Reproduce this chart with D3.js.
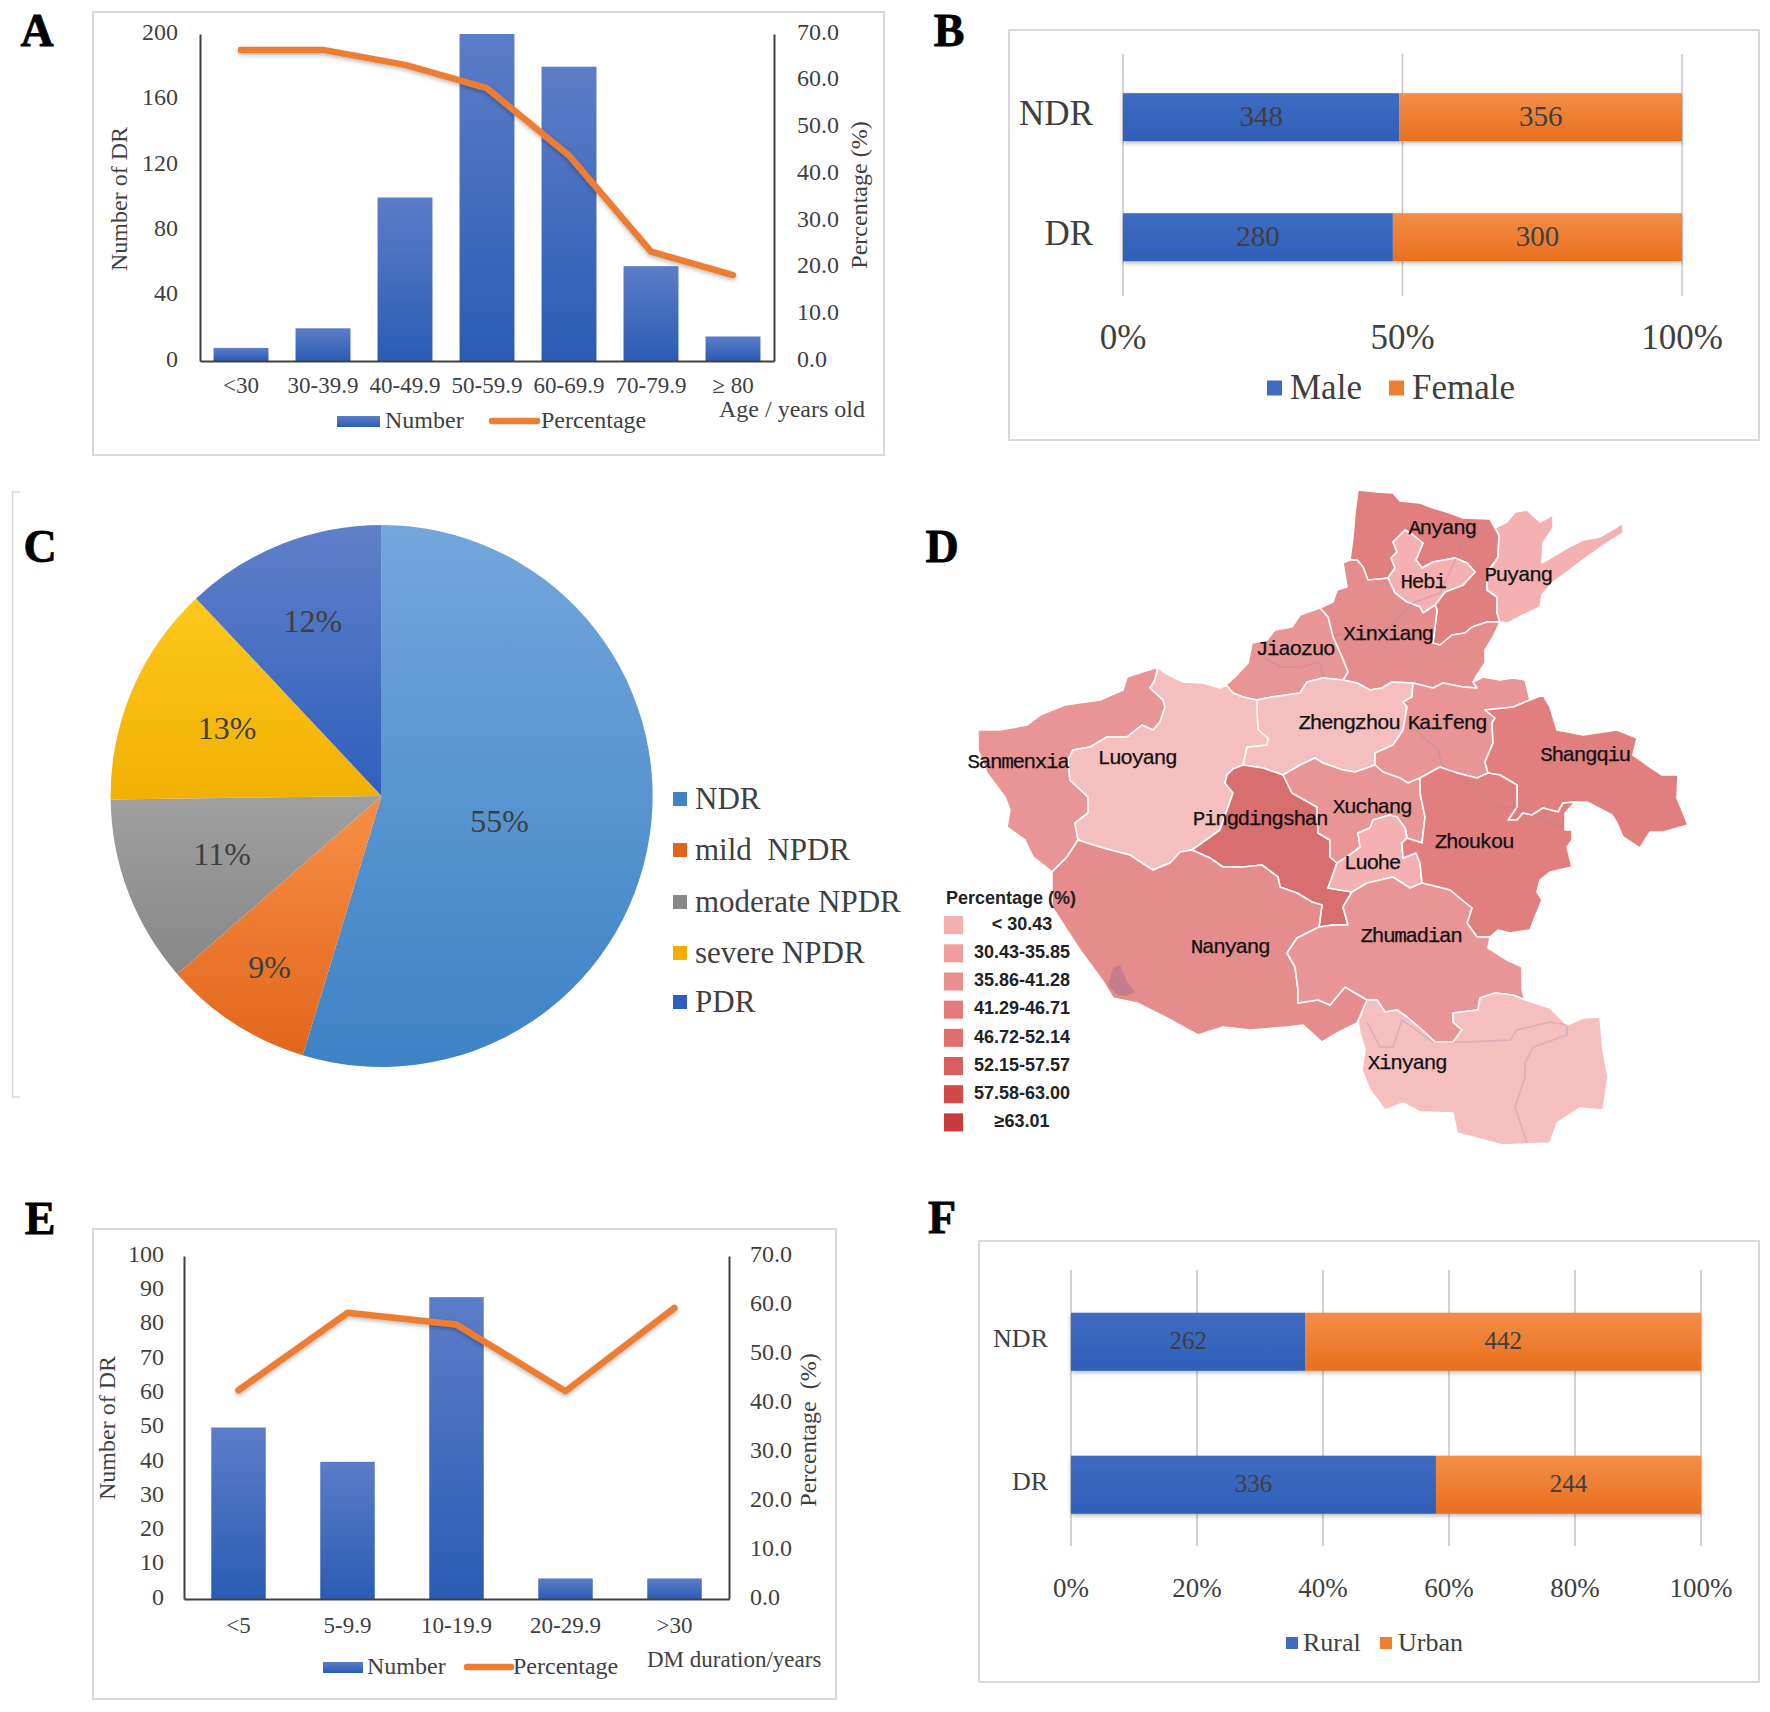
<!DOCTYPE html>
<html>
<head>
<meta charset="utf-8">
<title>DR figure</title>
<script src="https://cdn.jsdelivr.net/npm/d3@7"></script>
<style>
  body { margin: 0; background: #fff; }
  svg { display: block; }
  text { font-family: "Liberation Serif", serif; fill: #3f3f3f; }
  .letter { font-weight: bold; fill: #000; stroke: #000; stroke-width: 0.8px; font-size: 46px; text-anchor: middle; }
  .mapLabel { font-family: "Liberation Mono", monospace; fill: #111; stroke: #111; stroke-width: 0.25px; font-size: 21px; text-anchor: middle; dominant-baseline: middle; }
  .mapLegend { font-family: "Liberation Sans", sans-serif; font-weight: bold; fill: #222; font-size: 18px; }
</style>
</head>
<body>
<svg id="fig" width="1770" height="1712"></svg>
<script>
// panel A
const ageGroups = ['<30', '30-39.9', '40-49.9', '50-59.9', '60-69.9', '70-79.9', '≥ 80']
const ageNumber = [8, 20, 100, 200, 180, 58, 15]
const agePercent = [66.6, 66.6, 63.4, 58.4, 44, 23.4, 18.4]
const ageNumberTicks = [0, 40, 80, 120, 160, 200]
// panel E
const durationGroups = ['<5', '5-9.9', '10-19.9', '20-29.9', '>30']
const durationNumber = [50, 40, 88, 6, 6]
const durationPercent = [42.6, 58.4, 56, 42.4, 59.4]
const durationNumberTicks = [0, 10, 20, 30, 40, 50, 60, 70, 80, 90, 100]
const percentTicks = [0, 10, 20, 30, 40, 50, 60, 70]
// panels B and F
const groupNames = ['NDR', 'DR']
const male = [348, 280]
const female = [356, 300]
const rural = [262, 336]
const urban = [442, 244]
// panel C
const stageNames = ['NDR', 'mild  NPDR', 'moderate NPDR', 'severe NPDR', 'PDR']
const stageShare = [54.7, 8.9, 11.2, 13.2, 12]
const stageLabels = ['55%', '9%', '11%', '13%', '12%']
// panel D
const legendBreaks = [30.43, 35.86, 41.29, 46.72, 52.15, 57.58, 63.01]
const legendLabels = ['< 30.43', '30.43-35.85', '35.86-41.28', '41.29-46.71', '46.72-52.14', '52.15-57.57', '57.58-63.00', '≥63.01']
const legendColors = ['#f4afaf', '#f29d9d', '#ea8f8f', '#e47a7a', '#df6f6f', '#d95f5f', '#d04a4a', '#c93a3a']
const cityNames = ['Anyang', 'Hebi', 'Puyang', 'Xinxiang', 'Jiaozuo', 'Zhengzhou', 'Kaifeng', 'Shangqiu', 'Sanmenxia', 'Luoyang', 'Pingdingshan', 'Xuchang', 'Luohe', 'Zhoukou', 'Nanyang', 'Zhumadian', 'Xinyang']
const cityPercent = [55, 33, 33, 49, 44, 28, 44, 55, 44, 28, 60, 44, 33, 55, 49, 44, 28]
// borders, each shared by the two cities either side of it
const borders = {
  anyangOut: [[1350,560],[1353,537],[1355,513],[1358,490],[1377,492],[1393,493],[1400,501],[1420,503],[1433,508],[1447,512],[1463,518],[1490,519],[1495,528]],
  anyangPuyang: [[1495,528],[1499,535],[1498,557],[1495,562],[1487,572],[1487,590],[1497,597],[1497,613],[1500,622]],
  anyangXinxiangE: [[1500,622],[1487,622],[1472,627],[1465,633],[1452,635],[1440,645],[1433,643],[1435,627],[1437,610],[1435,605]],
  anyangHebi: [[1435,605],[1445,592],[1463,585],[1475,572],[1467,563],[1455,558],[1433,562],[1422,568],[1416,560],[1423,543],[1413,535],[1405,530],[1393,542],[1397,552],[1391,558],[1395,568],[1388,578]],
  anyangXinxiangW: [[1388,578],[1380,579],[1368,580],[1363,567],[1357,560],[1350,560]],
  hebiXinxiang: [[1388,578],[1395,593],[1407,602],[1420,607],[1423,613],[1435,605]],
  puyangOut: [[1495,528],[1507,522],[1515,512],[1527,510],[1540,522],[1553,515],[1553,528],[1543,543],[1542,563],[1567,548],[1583,540],[1600,537],[1623,523],[1623,533],[1607,543],[1583,560],[1570,570],[1552,583],[1542,595],[1540,607],[1523,615],[1508,623],[1500,622]],
  xinxiangOutE: [[1500,622],[1493,637],[1485,650],[1485,663],[1477,675],[1473,682],[1477,688]],
  xinxiangKaifeng: [[1477,688],[1463,687],[1443,683],[1433,688],[1413,683]],
  xinxiangZheng: [[1413,683],[1392,682],[1382,688],[1370,690],[1357,683],[1343,680]],
  xinxiangJiaozuo: [[1343,680],[1348,672],[1342,657],[1333,637],[1328,617],[1320,608]],
  xinxiangOutW: [[1320,608],[1333,602],[1337,590],[1347,587],[1343,563],[1350,560]],
  jiaozuoOut: [[1320,608],[1300,615],[1292,627],[1275,630],[1267,640],[1252,643],[1248,663],[1235,677],[1226,685]],
  jiaozuoZheng: [[1343,680],[1323,678],[1307,682],[1300,693],[1272,697],[1257,700]],
  jiaozuoLuoyang: [[1257,700],[1243,697],[1233,693],[1226,685]],
  zhengLuoyang: [[1257,700],[1257,713],[1258,730],[1268,738],[1267,745],[1247,747],[1243,765]],
  zhengPing: [[1243,765],[1263,768],[1283,775]],
  zhengXuchang: [[1283,775],[1300,765],[1315,758],[1323,763],[1343,770],[1355,772],[1375,765]],
  zhengKaifeng: [[1413,683],[1412,697],[1403,702],[1407,707],[1403,730],[1393,745],[1375,753],[1375,765]],
  kaifengXuchang: [[1375,765],[1383,772],[1400,778],[1408,783],[1420,778]],
  kaifengZhoukou: [[1420,778],[1440,767],[1457,773],[1477,778],[1488,773]],
  kaifengShangqiu: [[1488,773],[1485,762],[1493,743],[1492,723],[1495,718],[1485,710],[1513,707],[1530,700]],
  kaifengOut: [[1530,700],[1525,680],[1513,678],[1500,680],[1483,677],[1473,682],[1477,688]],
  shangqiuOut: [[1530,700],[1543,695],[1550,707],[1557,730],[1583,735],[1617,730],[1637,738],[1633,755],[1650,767],[1662,775],[1678,775],[1677,798],[1688,825],[1663,832],[1650,832],[1640,848],[1623,837],[1617,823],[1612,815],[1587,802],[1575,802]],
  shangqiuZhoukou: [[1575,802],[1563,803],[1558,812],[1543,808],[1532,815],[1523,813],[1517,820],[1508,820],[1517,807],[1517,785],[1500,775],[1488,773]],
  zhoukouOut: [[1575,802],[1565,813],[1565,830],[1572,830],[1572,840],[1567,847],[1572,867],[1550,872],[1540,880],[1537,892],[1542,900],[1535,917],[1530,930],[1510,933],[1498,930],[1490,937]],
  zhoukouZhuma: [[1490,937],[1477,937],[1467,923],[1472,908],[1462,900],[1450,890],[1422,883]],
  zhoukouLuohe: [[1422,883],[1420,863],[1416,853],[1403,858],[1402,843],[1407,838]],
  zhoukouXuchang: [[1407,838],[1422,843],[1425,817],[1420,793],[1420,778]],
  luoheXuchang: [[1407,838],[1405,828],[1397,817],[1390,815],[1373,820],[1370,828],[1358,833],[1360,847],[1347,857],[1337,863]],
  luohePing: [[1337,863],[1328,888],[1352,892]],
  luoheZhuma: [[1352,892],[1367,883],[1393,877],[1410,888],[1422,883]],
  xuchangPing: [[1283,775],[1292,793],[1317,807],[1318,833],[1330,840],[1330,857],[1337,863]],
  pingZhuma: [[1352,892],[1343,907],[1348,925],[1333,925],[1319,927]],
  pingNanyang: [[1319,927],[1322,905],[1312,902],[1297,893],[1280,887],[1278,877],[1262,865],[1243,867],[1223,867],[1210,858],[1192,850]],
  pingLuoyang: [[1192,850],[1220,830],[1227,810],[1233,793],[1225,783],[1227,775],[1233,769],[1243,765]],
  luoyangOutN: [[1158,667],[1163,672],[1183,682],[1203,683],[1220,688],[1226,685]],
  luoyangSanmen: [[1158,667],[1155,680],[1150,688],[1163,700],[1165,707],[1160,722],[1153,730],[1142,725],[1127,737],[1107,737],[1090,747],[1073,750],[1068,760],[1070,780],[1088,797],[1088,813],[1075,823],[1078,840]],
  luoyangNanyang: [[1078,840],[1103,848],[1130,855],[1142,863],[1153,870],[1170,863],[1180,852],[1192,850]],
  sanmenNanyang: [[1078,840],[1067,857],[1052,872]],
  sanmenOut: [[1052,872],[1033,857],[1025,840],[1007,827],[1010,810],[1005,797],[987,773],[978,750],[978,730],[1000,730],[1027,725],[1040,715],[1065,705],[1100,700],[1123,690],[1127,677],[1158,667]],
  nanyangOut: [[1052,872],[1052,907],[1065,927],[1080,950],[1102,980],[1113,998],[1137,1003],[1167,1018],[1198,1035],[1223,1027],[1250,1030],[1287,1027],[1303,1025],[1322,1042],[1337,1033],[1357,1023],[1367,1000]],
  nanyangZhuma: [[1367,1000],[1345,987],[1330,1005],[1318,1000],[1298,1003],[1298,990],[1295,967],[1287,953],[1297,938],[1319,927]],
  zhumaOut: [[1490,937],[1488,948],[1507,960],[1522,967],[1522,990],[1525,1000]],
  zhumaXinyang: [[1525,1000],[1513,995],[1495,993],[1480,998],[1478,1010],[1453,1013],[1453,1022],[1462,1030],[1453,1042],[1435,1042],[1420,1028],[1407,1017],[1397,1010],[1385,1012],[1377,1000],[1367,1000]],
  xinyangOut: [[1525,1000],[1550,1008],[1567,1025],[1583,1018],[1600,1017],[1603,1050],[1608,1077],[1603,1110],[1580,1108],[1557,1123],[1550,1143],[1503,1145],[1457,1133],[1453,1113],[1420,1112],[1403,1103],[1385,1110],[1370,1090],[1362,1070],[1365,1050],[1360,1033],[1358,1022],[1367,1000]]
}
// a leading - walks the border backwards
const cityRings = {
  Anyang: ['anyangOut', 'anyangPuyang', 'anyangXinxiangE', 'anyangHebi', 'anyangXinxiangW'],
  Hebi: ['anyangHebi', 'hebiXinxiang'],
  Puyang: ['puyangOut', '-anyangPuyang'],
  Xinxiang: ['xinxiangOutE', 'xinxiangKaifeng', 'xinxiangZheng', 'xinxiangJiaozuo', 'xinxiangOutW', '-anyangXinxiangW', 'hebiXinxiang', '-anyangXinxiangE'],
  Jiaozuo: ['-xinxiangJiaozuo', 'jiaozuoZheng', 'jiaozuoLuoyang', '-jiaozuoOut'],
  Zhengzhou: ['xinxiangZheng', 'jiaozuoZheng', 'zhengLuoyang', 'zhengPing', 'zhengXuchang', '-zhengKaifeng'],
  Kaifeng: ['zhengKaifeng', 'kaifengXuchang', 'kaifengZhoukou', 'kaifengShangqiu', 'kaifengOut', 'xinxiangKaifeng'],
  Shangqiu: ['shangqiuOut', 'shangqiuZhoukou', 'kaifengShangqiu'],
  Sanmenxia: ['luoyangSanmen', 'sanmenNanyang', 'sanmenOut'],
  Luoyang: ['luoyangOutN', '-jiaozuoLuoyang', 'zhengLuoyang', '-pingLuoyang', '-luoyangNanyang', '-luoyangSanmen'],
  Pingdingshan: ['zhengPing', 'xuchangPing', 'luohePing', 'pingZhuma', 'pingNanyang', 'pingLuoyang'],
  Xuchang: ['zhengXuchang', 'kaifengXuchang', '-zhoukouXuchang', 'luoheXuchang', '-xuchangPing'],
  Luohe: ['luoheXuchang', 'luohePing', 'luoheZhuma', 'zhoukouLuohe'],
  Zhoukou: ['zhoukouOut', 'zhoukouZhuma', 'zhoukouLuohe', 'zhoukouXuchang', 'kaifengZhoukou', '-shangqiuZhoukou'],
  Nanyang: ['nanyangOut', 'nanyangZhuma', 'pingNanyang', '-luoyangNanyang', 'sanmenNanyang'],
  Zhumadian: ['zhumaOut', 'zhumaXinyang', 'nanyangZhuma', '-pingZhuma', 'luoheZhuma', '-zhoukouZhuma'],
  Xinyang: ['xinyangOut', '-zhumaXinyang']
}
const rivers = [
  [[1413,728],[1438,750],[1442,765],[1470,783],[1490,805],[1517,808],[1563,828]],
  [[1367,1022],[1380,1047],[1393,1047],[1402,1020],[1433,1042],[1467,1042],[1510,1040],[1517,1030],[1550,1022],[1567,1025],[1567,1035],[1533,1047],[1525,1063],[1525,1077],[1515,1107],[1527,1143]],
  [[1333,635],[1387,630],[1413,603],[1440,593],[1463,543],[1487,527]],
  [[1263,657],[1280,667],[1300,667],[1320,662],[1323,677]]
]
const lake = [[1108,985],[1113,968],[1120,965],[1127,982],[1135,992],[1125,996],[1116,994]]
const cityLabelSpots = {
  Anyang: [1442,528], Hebi: [1423,582], Puyang: [1518,575], Xinxiang: [1388,634], Jiaozuo: [1295,649], Zhengzhou: [1349,723], Kaifeng: [1447,723], Shangqiu: [1585,755], Sanmenxia: [1018,762], Luoyang: [1137,758], Pingdingshan: [1260,819], Xuchang: [1372,807], Luohe: [1372,863], Zhoukou: [1474,842], Nanyang: [1230,947], Zhumadian: [1411,936], Xinyang: [1407,1063]
}

const svg = d3.select('#fig')
const defs = svg.append('defs')

const addGradient = (id, top, bottom) => {
  const g = defs.append('linearGradient').attr('id', id).attr('x1', 0).attr('y1', 0).attr('x2', 0).attr('y2', 1)
  g.append('stop').attr('offset', '0%').attr('stop-color', top)
  g.append('stop').attr('offset', '100%').attr('stop-color', bottom)
}
addGradient('blueBar', '#5c7dc8', '#2a5cb4')
addGradient('orangeBar', '#f48d47', '#e8701f')
addGradient('blueStack', '#3f6cc2', '#2f5fb8')

defs.append('filter').attr('id', 'soft').attr('x', '-10%').attr('y', '-10%').attr('width', '120%').attr('height', '130%')
  .append('feDropShadow').attr('dx', 0).attr('dy', 2).attr('stdDeviation', 2).attr('flood-color', '#000').attr('flood-opacity', 0.28)

const frame = (x0, y0, x1, y1) => {
  svg.append('rect').attr('x', x0).attr('y', y0).attr('width', x1 - x0).attr('height', y1 - y0)
    .attr('fill', 'none').attr('stroke', '#d9d9d9').attr('stroke-width', 2)
}

const letter = (s, x, y) => svg.append('text').attr('class', 'letter').attr('x', x).attr('y', y).text(s)

const label = (s, x, y, size, anchor) => svg.append('text').attr('x', x).attr('y', y + size * 0.08)
  .attr('font-size', size).attr('text-anchor', anchor || 'start').attr('dominant-baseline', 'middle').text(s)

const rotated = (s, x, y, size) => svg.append('text').attr('transform', `translate(${x},${y}) rotate(-90)`)
  .attr('font-size', size).attr('text-anchor', 'middle').attr('dominant-baseline', 'middle').text(s)

/**
 * bars with a percentage line on a second axis
 *
 * @param {object} c - categories, values and placement of the chart
 */
const comboChart = (c) => {
  const x = d3.scaleBand().domain(c.categories).range([c.left, c.right]).paddingInner(c.padding).paddingOuter(c.padding / 2)
  const y = d3.scaleLinear().domain([0, c.maxNumber]).range([c.bottom, c.top])
  const y2 = d3.scaleLinear().domain([0, 70]).range([c.bottom, c.top])
  const cx = (d) => x(d) + x.bandwidth() / 2

  svg.selectAll(null).data(c.number).join('rect')
    .attr('x', (d, i) => x(c.categories[i]))
    .attr('y', (d) => y(d))
    .attr('width', x.bandwidth())
    .attr('height', (d) => y(0) - y(d))
    .attr('fill', 'url(#blueBar)')

  const styleAxis = (g) => {
    g.selectAll('path').attr('stroke', '#404040').attr('stroke-width', 2)
    g.selectAll('text').attr('font-size', c.tickSize).attr('font-family', 'Liberation Serif').attr('fill', '#3f3f3f').attr('dy', '0.22em')
  }
  svg.append('g').attr('transform', `translate(${c.left},0)`)
    .call(d3.axisLeft(y).tickValues(c.numberTicks).tickSize(0).tickPadding(c.tickPad)).call(styleAxis)
  svg.append('g').attr('transform', `translate(${c.right},0)`)
    .call(d3.axisRight(y2).tickValues(percentTicks).tickSize(0).tickPadding(c.tickPad + 1).tickFormat(d3.format('.1f'))).call(styleAxis)
  svg.append('g').attr('transform', `translate(0,${c.bottom})`)
    .call(d3.axisBottom(x).tickSize(0).tickPadding(c.catPad)).call(styleAxis)
    .call((g) => g.selectAll('text').attr('font-size', c.catSize).attr('dy', '0.71em'))

  const line = d3.line().x((d, i) => cx(c.categories[i])).y((d) => y2(d))
  svg.append('path').attr('d', line(c.percent)).attr('fill', 'none').attr('stroke', '#ed7d31')
    .attr('stroke-width', 6.5).attr('stroke-linecap', 'round').attr('stroke-linejoin', 'round').attr('filter', 'url(#soft)')

  rotated('Number of DR', c.leftTitle[0], c.leftTitle[1], 24)
  rotated(c.rightTitleText, c.rightTitle[0], c.rightTitle[1], 24).style('white-space', 'pre')
  label(c.xTitle, c.xTitlePos[0], c.xTitlePos[1], c.xTitleSize)

  const lg = c.legend
  svg.append('rect').attr('x', lg.bar[0]).attr('y', lg.y - 5).attr('width', lg.bar[1] - lg.bar[0]).attr('height', 11).attr('fill', 'url(#blueBar)')
  label('Number', lg.barText, lg.y, 24)
  svg.append('line').attr('x1', lg.line[0]).attr('x2', lg.line[1]).attr('y1', lg.y).attr('y2', lg.y)
    .attr('stroke', '#ed7d31').attr('stroke-width', 6.5).attr('stroke-linecap', 'round')
  label('Percentage', lg.lineText, lg.y, 24)
}

/**
 * 100% stacked horizontal bars
 *
 * @param {object} c - series and placement of the chart
 */
const stackChart = (c) => {
  const x = d3.scaleLinear().domain([0, 1]).range([c.left, c.right])
  const y = d3.scaleBand().domain(groupNames).range([c.top, c.bottom]).paddingInner(c.inner).paddingOuter(c.outer).align(c.align)

  svg.selectAll(null).data(c.ticks).join('line')
    .attr('x1', (d) => x(d)).attr('x2', (d) => x(d))
    .attr('y1', c.top).attr('y2', c.bottom)
    .attr('stroke', '#c4c4c4').attr('stroke-width', 1.5)

  groupNames.forEach((name, i) => {
    const total = c.first[i] + c.second[i]
    const split = c.first[i] / total
    const g = svg.append('g').attr('filter', 'url(#soft)')
    g.append('rect').attr('x', x(0)).attr('y', y(name)).attr('width', x(split) - x(0)).attr('height', y.bandwidth()).attr('fill', 'url(#blueStack)')
    g.append('rect').attr('x', x(split)).attr('y', y(name)).attr('width', x(1) - x(split)).attr('height', y.bandwidth()).attr('fill', 'url(#orangeBar)')
    const mid = y(name) + y.bandwidth() / 2
    label(c.first[i], x(split / 2), mid, c.valueSize, 'middle')
    label(c.second[i], x((1 + split) / 2), mid, c.valueSize, 'middle')
    label(name, c.left - c.catGap, mid + c.catDrop, c.catSize, 'end')
  })

  c.ticks.forEach((t) => label(d3.format('.0%')(t), x(t), c.tickY, c.tickSize, 'middle'))

  c.legendItems.forEach((item) => {
    svg.append('rect').attr('x', item.x).attr('y', c.legendY - item.size / 2).attr('width', item.size).attr('height', item.size)
      .attr('fill', item.color)
    label(item.name, item.textX, c.legendY, c.legendSize)
  })
}

// ---- A
frame(93, 12, 884, 455)
letter('A', 37, 46)
comboChart({
  categories: ageGroups, number: ageNumber, percent: agePercent, numberTicks: ageNumberTicks, maxNumber: 200,
  left: 200, right: 774, top: 34, bottom: 361, padding: 0.33, tickSize: 24, tickPad: 22, catSize: 23, catPad: 16,
  leftTitle: [121, 199], rightTitle: [861, 195], rightTitleText: 'Percentage (%)',
  xTitle: 'Age / years old', xTitlePos: [719, 410], xTitleSize: 24,
  legend: { y: 421, bar: [337, 380], barText: 385, line: [492, 537], lineText: 541 }
})

// ---- B
frame(1009, 30, 1759, 440)
letter('B', 949, 46)
stackChart({
  first: male, second: female, left: 1123, right: 1682, top: 54, bottom: 296, inner: 0.6, outer: 0.308, align: 0.53, ticks: [0, 0.5, 1],
  valueSize: 29, catSize: 35, catGap: 30, catDrop: -3, tickY: 338, tickSize: 35, legendY: 388, legendSize: 35,
  legendItems: [
    { name: 'Male', color: '#3f6cc2', x: 1267, size: 15, textX: 1290 },
    { name: 'Female', color: '#ed7d31', x: 1389, size: 15, textX: 1412 }
  ]
})

// ---- C
svg.append('path').attr('d', 'M20,492 H12.5 V1097 H20').attr('fill', 'none').attr('stroke', '#d9d9d9').attr('stroke-width', 1.5)
letter('C', 40, 562)
const pieCentre = [381.6, 796]
const pieRadius = 271
const stageColors = [['#74a6dc', '#3d83c5'], ['#f58b42', '#e0641a'], ['#b2b2b2', '#888888'], ['#ffca1e', '#efae00'], ['#6080c8', '#2f5fbe']]
const stageStops = [[0, 1], [0.55, 1], [0.25, 0.82], [0.1, 0.55], [0, 0.5]]
const stageLabelRadius = [0.44, 0.76, 0.63, 0.62, 0.69]
const stageLabelDrop = [8, -1, -2, -2, -1]
const stageLegendY = [799, 850, 902, 953, 1002]
const pieArcs = d3.pie().sort(null)(stageShare)
const arc = d3.arc().innerRadius(0).outerRadius(pieRadius)
const pieG = svg.append('g').attr('transform', `translate(${pieCentre[0]},${pieCentre[1]})`)
stageColors.forEach((pair, i) => {
  const g = defs.append('linearGradient').attr('id', `stage${i}`).attr('gradientUnits', 'userSpaceOnUse')
    .attr('x1', 0).attr('x2', 0).attr('y1', -pieRadius).attr('y2', pieRadius)
  g.append('stop').attr('offset', `${stageStops[i][0] * 100}%`).attr('stop-color', pair[0])
  g.append('stop').attr('offset', `${stageStops[i][1] * 100}%`).attr('stop-color', pair[1])
})
pieG.selectAll('path').data(pieArcs).join('path').attr('d', arc).attr('fill', (d, i) => `url(#stage${i})`)
pieG.selectAll('text').data(pieArcs).join('text')
  .attr('x', (d, i) => d3.arc().innerRadius(0).outerRadius(2 * pieRadius * stageLabelRadius[i]).centroid(d)[0])
  .attr('y', (d, i) => d3.arc().innerRadius(0).outerRadius(2 * pieRadius * stageLabelRadius[i]).centroid(d)[1] + 3 + stageLabelDrop[i])
  .attr('font-size', 32).attr('text-anchor', 'middle').attr('dominant-baseline', 'middle')
  .text((d, i) => stageLabels[i])
stageNames.forEach((name, i) => {
  svg.append('rect').attr('x', 673).attr('y', stageLegendY[i] - 7).attr('width', 14).attr('height', 14).attr('fill', stageColors[i][1])
  label(name, 695, stageLegendY[i], 31).style('white-space', 'pre')
})

// ---- D
letter('D', 942, 562)
const mapX = d3.scaleLinear().domain([920, 1720]).range([920, 1720])
const mapY = d3.scaleLinear().domain([470, 1170]).range([470, 1170])
const cityColor = d3.scaleThreshold().domain(legendBreaks).range(legendColors)
const mapLine = d3.line().x((d) => mapX(d[0])).y((d) => mapY(d[1]))
const cityRing = (name) => cityRings[name].flatMap((key) => (key[0] === '-' ? borders[key.slice(1)].slice().reverse() : borders[key]))
svg.append('g').selectAll('path').data(cityNames).join('path')
  .attr('d', (d) => mapLine(cityRing(d)) + 'Z')
  .attr('fill', (d, i) => cityColor(cityPercent[i]))
  .attr('fill-opacity', 0.8)
  .attr('stroke', '#fff').attr('stroke-width', 1.6).attr('stroke-linejoin', 'round')
svg.append('g').selectAll('path').data(rivers).join('path')
  .attr('d', mapLine).attr('fill', 'none').attr('stroke', '#9c86a8').attr('stroke-opacity', 0.3).attr('stroke-width', 1.5)
svg.append('path').attr('d', mapLine(lake) + 'Z').attr('fill', '#b46f8c').attr('fill-opacity', 0.6)
svg.append('g').selectAll('text').data(cityNames).join('text')
  .attr('class', 'mapLabel')
  .attr('x', (d) => mapX(cityLabelSpots[d][0]))
  .attr('y', (d) => mapY(cityLabelSpots[d][1]))
  .attr('letter-spacing', -1.4)
  .text((d) => d)

svg.append('text').attr('class', 'mapLegend').attr('x', 946).attr('y', 904).text('Percentage (%)')
const swatchY = d3.scaleBand().domain(legendLabels).range([911, 1136.5]).paddingInner(0.36).paddingOuter(0.18)
svg.append('g').selectAll('rect').data(legendLabels).join('rect')
  .attr('x', 944).attr('y', (d) => swatchY(d)).attr('width', 19).attr('height', swatchY.bandwidth())
  .attr('fill', (d, i) => legendColors[i])
svg.append('g').selectAll('text').data(legendLabels).join('text')
  .attr('class', 'mapLegend').attr('x', 1022).attr('y', (d) => swatchY(d) + swatchY.bandwidth() / 2)
  .attr('text-anchor', 'middle').attr('dominant-baseline', 'middle').text((d) => d)

// ---- E
frame(93, 1229, 836, 1699)
letter('E', 40, 1234)
comboChart({
  categories: durationGroups, number: durationNumber, percent: durationPercent, numberTicks: durationNumberTicks, maxNumber: 100,
  left: 184, right: 729, top: 1256, bottom: 1599, padding: 0.5, tickSize: 24, tickPad: 20, catSize: 23, catPad: 18,
  leftTitle: [109, 1428], rightTitle: [810, 1430], rightTitleText: 'Percentage  (%)',
  xTitle: 'DM duration/years', xTitlePos: [647, 1660], xTitleSize: 23,
  legend: { y: 1667, bar: [323, 363], barText: 367, line: [467, 511], lineText: 513 }
})

// ---- F
frame(979, 1241, 1759, 1682)
letter('F', 942, 1233)
stackChart({
  first: rural, second: urban, left: 1071, right: 1701, top: 1270, bottom: 1546, inner: 0.594, outer: 0.262, align: 0.57, ticks: [0, 0.2, 0.4, 0.6, 0.8, 1],
  valueSize: 25, catSize: 26, catGap: 23, catDrop: -3, tickY: 1589, tickSize: 27, legendY: 1643, legendSize: 26,
  legendItems: [
    { name: 'Rural', color: '#3f6cc2', x: 1286, size: 12, textX: 1303 },
    { name: 'Urban', color: '#ed7d31', x: 1380, size: 12, textX: 1398 }
  ]
})
</script>
</body>
</html>
